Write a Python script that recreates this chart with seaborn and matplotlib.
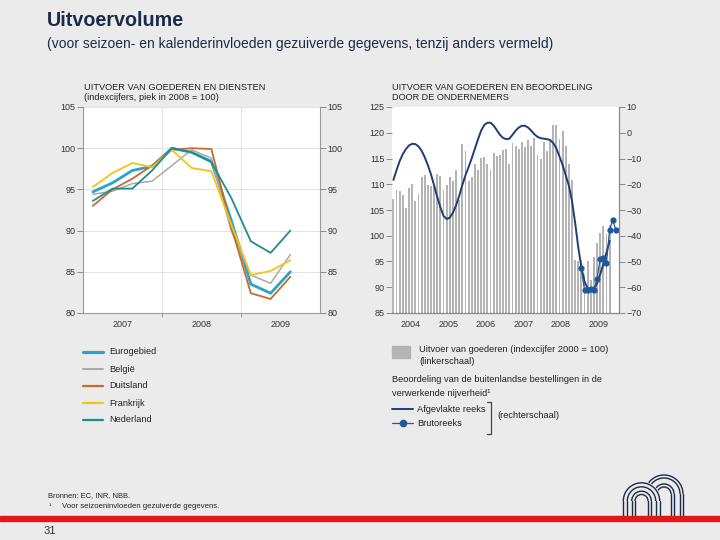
import numpy as np
import pandas as pd
import seaborn as sns
import matplotlib.pyplot as plt
from matplotlib.lines import Line2D
from matplotlib.patches import Rectangle, Arc, Wedge

# ---- data: left panel (quarterly, peak in 2008 = 100)
quarters = ['2007Q1', '2007Q2', '2007Q3', '2007Q4', '2008Q1', '2008Q2',
            '2008Q3', '2008Q4', '2009Q1', '2009Q2', '2009Q3']
eurogebied = [94.7, 95.8, 97.3, 97.8, 100.0, 99.5, 98.4, 91.3, 83.5, 82.4, 85.0]
belgie     = [94.4, 94.8, 95.7, 96.0, 97.9, 99.8, 98.8, 90.0, 84.6, 83.6, 87.1]
duitsland  = [93.0, 95.0, 96.3, 97.9, 99.8, 100.0, 99.9, 90.5, 82.4, 81.7, 84.4]
frankrijk  = [95.3, 97.0, 98.2, 97.7, 99.8, 97.6, 97.2, 90.8, 84.6, 85.1, 86.4]
nederland  = [93.6, 95.1, 95.1, 97.3, 100.0, 99.5, 98.3, 94.0, 88.7, 87.3, 90.0]
landen = ['Eurogebied', 'België', 'Duitsland', 'Frankrijk', 'Nederland']

# ---- data: right panel (monthly, Jan 2004 - Oct 2009)
maanden = pd.period_range('2004-01', '2009-10', freq='M')
uitvoer = [107.1, 108.9, 108.6, 107.9, 105.4, 109.2, 110.0, 106.7, 108.2, 111.4, 111.8, 109.9,
           109.7, 109.6, 112.0, 111.6, 108.9, 109.9, 111.4, 110.7, 112.7, 106.9, 117.8, 116.5,
           110.7, 111.5, 114.0, 112.8, 115.1, 115.3, 113.9, 112.8, 116.1, 115.5, 115.6, 116.6,
           116.9, 114.0, 118.0, 117.4, 116.8, 118.3, 117.3, 118.6, 117.5, 119.0, 115.7, 115.0,
           118.3, 116.5, 118.5, 121.6, 121.6, 118.7, 120.4, 117.5, 114.0, 110.9, 95.3, 95.0,
           95.2, 92.5, 95.0, 91.5, 95.8, 98.5, 100.5, 101.8, 100.3, 102.0]
afgevlakt = [-18.3, -14.5, -11.0, -8.3, -6.3, -4.9, -4.3, -4.4, -5.3, -7.0, -9.5, -12.6,
             -16.2, -20.5, -25.0, -29.0, -32.3, -33.5, -33.0, -31.0, -28.2, -24.5, -20.3, -16.5,
             -13.3, -9.9, -6.2, -2.5, 0.8, 3.0, 3.9, 3.9, 2.8, 1.0, -0.8, -2.0,
             -2.5, -2.3, -0.8, 0.8, 2.0, 2.7, 2.7, 2.0, 0.8, -0.6, -1.6, -2.1,
             -2.3, -2.5, -2.8, -4.0, -6.0, -9.2, -12.5, -16.5, -20.5, -26.5, -35.0, -44.5,
             -52.3, -57.8, -60.5, -61.2, -60.5, -58.5, -55.0, -51.0, -46.5, -42.0]
bruto_maanden = pd.period_range('2009-01', '2009-12', freq='M')
bruto = [-52.7, -61.2, -61.2, -60.5, -61.2, -56.7, -48.9, -48.7, -50.5, -37.7, -34.0, -37.7]
jaren = ['2004', '2005', '2006', '2007', '2008', '2009']

kleuren = {'Eurogebied': '#2aa3c9', 'België': '#a9a9a9', 'Duitsland': '#c8692e',
           'Frankrijk': '#f0c419', 'Nederland': '#1f8c8e'}
breedte = {'Eurogebied': 2.0, 'België': 1.1, 'Duitsland': 1.3, 'Frankrijk': 1.3, 'Nederland': 1.3}
BG = '#ebebeb'
NAVY = '#1b2b4b'
GRIJS = '#b4b4b4'
BLAUW = '#1d3f72'

sns.set_style('white')
plt.rcParams['font.family'] = ['Liberation Sans', 'DejaVu Sans']

W, H = 720, 540
fx = lambda px: px / W
fy = lambda py: 1 - py / H

fig = plt.figure(figsize=(7.2, 5.4), dpi=100)
fig.patch.set_facecolor(BG)

# ---------------- left panel
qx = [int(q[:4]) + (int(q[-1]) - 0.5) / 4 for q in quarters]
df = pd.DataFrame({'x': qx * 5,
                   'waarde': eurogebied + belgie + duitsland + frankrijk + nederland,
                   'land': np.repeat(landen, len(quarters))})

ax1 = fig.add_axes([fx(83), fy(313), fx(320 - 83), (313 - 107) / H])
for land in landen:
    sns.lineplot(data=df[df.land == land], x='x', y='waarde', color=kleuren[land],
                 linewidth=breedte[land], ax=ax1)
ax1.set_xlim(2007, 2010)
ax1.set_ylim(80, 105)
ax1.set_yticks(range(80, 106, 5))
ax1.set_xticks([2007.5, 2008.5, 2009.5])
ax1.set_xticklabels(['2007', '2008', '2009'])
ax1.set_xticks([2008, 2009], minor=True)
ax1.set_xlabel('')
ax1.set_ylabel('')
ax1.grid(axis='y', which='major', color='#e3e3e3', lw=0.7)
ax1.grid(axis='x', which='minor', color='#e3e3e3', lw=0.7)
ax1.tick_params(axis='y', left=True, right=True, labelleft=True, labelright=True,
                length=4, width=0.7, color='#888888', labelsize=6.5, labelcolor='#333333', pad=1.5)
ax1.tick_params(axis='x', which='major', length=0, labelsize=6.5, labelcolor='#333333', pad=5)
ax1.tick_params(axis='x', which='minor', bottom=True, length=3, width=0.7, color='#999999')
ax1.spines['top'].set_visible(False)
for s in ['left', 'right', 'bottom']:
    ax1.spines[s].set_color('#9a9a9a')
    ax1.spines[s].set_linewidth(0.8)

# ---------------- right panel
mx = np.arange(1, len(maanden) + 1)
bx = [(p.year - 2004) * 12 + p.month for p in bruto_maanden]

ax2 = fig.add_axes([fx(392), fy(313), fx(619 - 392), (313 - 107) / H])
sns.barplot(x=mx, y=uitvoer, native_scale=True, width=0.6, color=GRIJS, saturation=1,
            errorbar=None, linewidth=0, ax=ax2)
ax2.set_ylim(85, 125)
ax2.set_yticks(range(85, 126, 5))
ax2.set_xlim(0.55, 73.0)
ax2.set_xticks([6.5 + 12 * i for i in range(len(jaren))])
ax2.set_xticklabels(jaren)
ax2.tick_params(axis='x', length=0, labelsize=6.5, labelcolor='#333333', pad=5)
ax2.tick_params(axis='y', left=True, length=4, width=0.7, color='#888888',
                labelsize=6.5, labelcolor='#333333', pad=1.5)

ax3 = ax2.twinx()
sns.lineplot(x=mx, y=afgevlakt, color=BLAUW, linewidth=1.4, ax=ax3)
sns.lineplot(x=bx, y=bruto, color='#1e5a9a', linewidth=0.9, marker='o', markersize=4.5,
             markeredgewidth=0, ax=ax3)
ax3.set_ylim(-70, 10)
ax3.set_yticks(range(-70, 11, 10))
ax3.tick_params(axis='y', right=True, length=4, width=0.7, color='#888888',
                labelsize=6.5, labelcolor='#333333', pad=1.5)
for a in (ax2, ax3):
    a.set_ylabel('')
    a.spines['top'].set_visible(False)
    a.spines['left'].set_visible(False)
    for s in ['right', 'bottom']:
        a.spines[s].set_color('#8a8a8a')
        a.spines[s].set_linewidth(0.8)

# ---------------- titles
fig.text(fx(47), fy(21), 'Uitvoervolume', fontsize=14.2, fontweight='bold', color=NAVY, va='center')
fig.text(fx(47), fy(44), '(voor seizoen- en kalenderinvloeden gezuiverde gegevens, tenzij anders vermeld)',
         fontsize=10, color=NAVY, va='center')
fig.text(fx(84), fy(88), 'UITVOER VAN GOEDEREN EN DIENSTEN', fontsize=6.65, color='#222222', va='center')
fig.text(fx(84), fy(98), '(indexcijfers, piek in 2008 = 100)', fontsize=6.65, color='#222222', va='center')
fig.text(fx(392), fy(88), 'UITVOER VAN GOEDEREN EN BEOORDELING', fontsize=6.6, color='#222222', va='center')
fig.text(fx(392), fy(98), 'DOOR DE ONDERNEMERS', fontsize=6.6, color='#222222', va='center')

# ---------------- left legend
for i, land in enumerate(landen):
    y = 352 + 17 * i
    fig.add_artist(Line2D([fx(83), fx(103)], [fy(y), fy(y)], color=kleuren[land],
                          lw=breedte[land] + 0.3))
    fig.text(fx(109), fy(y), land, fontsize=6.6, color='#222222', va='center')

# ---------------- right legend
fig.add_artist(Rectangle((fx(392), fy(358)), fx(18), 12 / H, color=GRIJS))
fig.text(fx(419), fy(349), 'Uitvoer van goederen (indexcijfer 2000 = 100)', fontsize=6.7,
         color='#222222', va='center')
fig.text(fx(419), fy(362), '(linkerschaal)', fontsize=6.7, color='#222222', va='center')
fig.text(fx(392), fy(380), 'Beoordeling van de buitenlandse bestellingen in de', fontsize=6.7,
         color='#222222', va='center')
fig.text(fx(392), fy(393), 'verwerkende nijverheid¹', fontsize=6.7, color='#222222', va='center')
fig.add_artist(Line2D([fx(392), fx(413)], [fy(409), fy(409)], color=BLAUW, lw=1.4))
fig.text(fx(417), fy(409), 'Afgevlakte reeks', fontsize=6.7, color='#222222', va='center')
fig.add_artist(Line2D([fx(392), fx(413)], [fy(423), fy(423)], color='#1e5a9a', lw=0.9))
fig.add_artist(Line2D([fx(402.5)], [fy(423)], color='#1e5a9a', marker='o', markersize=4.5, lw=0))
fig.text(fx(417), fy(423), 'Brutoreeks', fontsize=6.7, color='#222222', va='center')
fig.add_artist(Line2D([fx(487), fx(491), fx(491), fx(487)],
                      [fy(402), fy(402), fy(434), fy(434)], color='#444444', lw=0.9))
fig.text(fx(497), fy(416), '(rechterschaal)', fontsize=6.7, color='#222222', va='center')

# ---------------- footer
fig.text(fx(48), fy(496), 'Bronnen: EC, INR, NBB.', fontsize=5.4, color='#222222', va='center')
fig.text(fx(49), fy(506), '¹', fontsize=5.4, color='#222222', va='center')
fig.text(fx(62), fy(507), 'Voor seizoeninvloeden gezuiverde gegevens.', fontsize=5.6,
         color='#222222', va='center')
fig.add_artist(Rectangle((0, fy(521)), 1, 5 / H, color='#e3161b'))
fig.text(fx(44), fy(531), '31', fontsize=8, color='#333333', va='center')

# logo (rough NBB arches), drawn in pixel units
lg = fig.add_axes([fx(615), fy(516), fx(80), 46 / H])
lg.set_xlim(615, 695)
lg.set_ylim(516, 470)
lg.axis('off')
kw = dict(color=NAVY, lw=1.0)
# right arch
for r in (19, 16, 10, 7):
    lg.add_patch(Arc((664, 494), 2 * r, 2 * r, theta1=180, theta2=360, **kw))
    lg.plot([664 + r, 664 + r], [494, 516], **kw)
    lg.plot([664 - r, 664 - r], [494, 516], **kw)
# left arch covers the right one
lg.add_patch(Wedge((641.5, 501), 19, 180, 360, color=BG, zorder=3))
lg.add_patch(Rectangle((622.5, 501), 38, 15, color=BG, zorder=3))
for r in (18.2, 14.2, 9.8, 6.5):
    lg.add_patch(Arc((641.5, 501), 2 * r, 2 * r, theta1=180, theta2=360, zorder=4, **kw))
    lg.plot([641.5 - r, 641.5 - r], [501, 516], zorder=4, **kw)
    lg.plot([641.5 + r, 641.5 + r], [501, 516], zorder=4, **kw)

fig.savefig('out.png', dpi=100, facecolor=BG)
